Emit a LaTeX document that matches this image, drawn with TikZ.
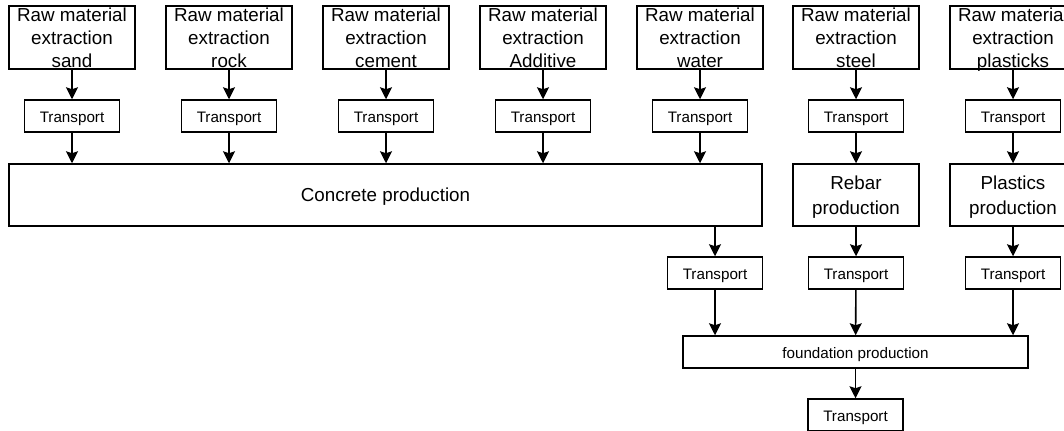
\documentclass[tikz,border=0pt]{standalone}
\usepackage{fontspec}
\setmainfont{Liberation Sans}
\usepackage{tikz}
\usetikzlibrary{arrows.meta}
\usetikzlibrary{positioning}
\tikzset{rawbox/.style = {draw, line width=0.75pt, inner sep=0pt, text depth=0pt,
                          minimum width=63pt, minimum height=31.5pt, align=center,
                          font=\fontsize{9.4}{11.4}\selectfont}}
\tikzset{prodbox/.style = {draw, line width=0.75pt, inner sep=0pt, text depth=0pt,
                           minimum height=31pt, align=center,
                           font=\fontsize{9.4}{12.5}\selectfont}}
\tikzset{transbox/.style = {draw, line width=0.75pt, inner sep=0pt,
                            text height=6.5pt, text depth=0pt,
                            minimum width=47.5pt, minimum height=16pt,
                            font=\fontsize{7.6}{9}\selectfont}}
\tikzset{flow/.style = {line width=0.8pt,
                        -{Stealth[length=6pt, width=6pt, inset=1pt]}}}

\begin{document}
\begin{tikzpicture}[x=0.5pt, y=-0.5pt]
      \useasboundingbox (0, 0) rectangle (1064, 430);
      % raw material extraction
      \node [rawbox] (rsand) at (72, 37.5) {Raw material\\extraction\\sand};
      \node [rawbox] (rrock) at (229, 37.5) {Raw material\\extraction\\rock};
      \node [rawbox] (rcement) at (386, 37.5) {Raw material\\extraction\\cement};
      \node [rawbox] (radditive) at (543, 37.5) {Raw material\\extraction\\Additive};
      \node [rawbox] (rwater) at (700, 37.5) {Raw material\\extraction\\water};
      \node [rawbox] (rsteel) at (856, 37.5) {Raw material\\extraction\\steel};
      \node [rawbox] (rplastic) at (1013, 37.5) {Raw material\\extraction\\plasticks};
      % first transport row
      \node [transbox] (tsand) at (72, 116) {Transport};
      \node [transbox] (trock) at (229, 116) {Transport};
      \node [transbox] (tcement) at (386, 116) {Transport};
      \node [transbox] (tadditive) at (543, 116) {Transport};
      \node [transbox] (twater) at (700, 116) {Transport};
      \node [transbox] (tsteel) at (856, 116) {Transport};
      \node [transbox] (tplastic) at (1013, 116) {Transport};
      % production
      \node [prodbox, minimum width=376.5pt] (concrete) at (385.5, 195) {Concrete production};
      \node [prodbox, minimum width=63pt] (rebar) at (856, 195) {Rebar\\production};
      \node [prodbox, minimum width=63pt] (plastics) at (1013, 195) {Plastics\\production};
      % second transport row
      \node [transbox] (tconcrete) at (715, 273) {Transport};
      \node [transbox] (trebar) at (856, 273) {Transport};
      \node [transbox] (tplastics) at (1013, 273) {Transport};
      \node [transbox, minimum width=172.5pt] (foundation) at (855.5, 352) {foundation production};
      \node [transbox] (tfoundation) at (855.5, 415) {Transport};

      \draw [flow] (rsand) -- (tsand);
      \draw [flow] (rrock) -- (trock);
      \draw [flow] (rcement) -- (tcement);
      \draw [flow] (radditive) -- (tadditive);
      \draw [flow] (rwater) -- (twater);
      \draw [flow] (rsteel) -- (tsteel);
      \draw [flow] (rplastic) -- (tplastic);
      \draw [flow] (tsand) -- (tsand |- concrete.north);
      \draw [flow] (trock) -- (trock |- concrete.north);
      \draw [flow] (tcement) -- (tcement |- concrete.north);
      \draw [flow] (tadditive) -- (tadditive |- concrete.north);
      \draw [flow] (twater) -- (twater |- concrete.north);
      \draw [flow] (tsteel) -- (rebar);
      \draw [flow] (tplastic) -- (plastics);
      \draw [flow] (tconcrete |- concrete.south) -- (tconcrete);
      \draw [flow] (rebar) -- (trebar);
      \draw [flow] (plastics) -- (tplastics);
      \draw [flow] (tconcrete) -- (tconcrete |- foundation.north);
      \draw [flow] (trebar) -- (foundation);
      \draw [flow] (tplastics) -- (tplastics |- foundation.north);
      \draw [flow] (foundation) -- (tfoundation);
    \end{tikzpicture}
\end{document}
